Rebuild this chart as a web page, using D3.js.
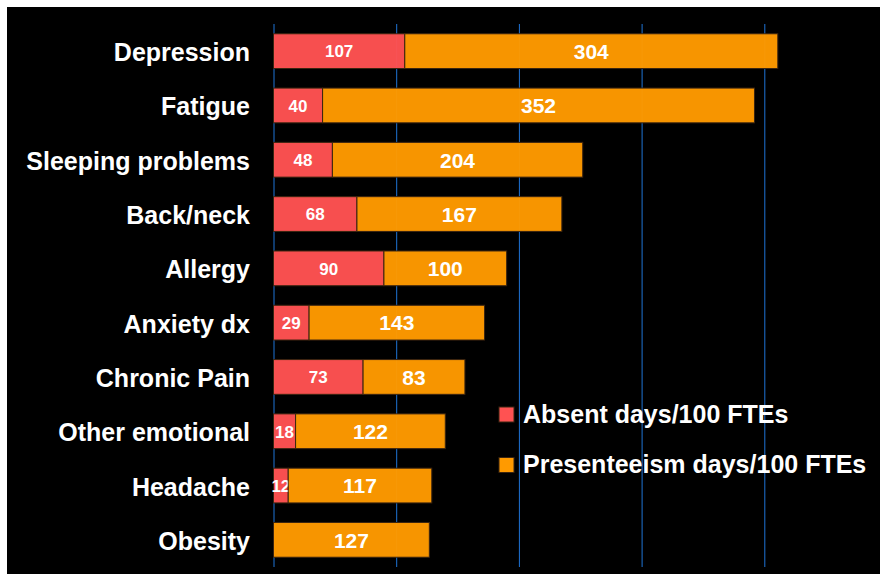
<!DOCTYPE html>
<html lang="en-us">
<head>
<meta charset="utf-8">
<title>Absent and presenteeism days</title>
<script src="https://d3js.org/d3.v7.min.js"></script>
<style>
  body { margin: 0; background: #fff; }
  svg text { font-family: "Liberation Sans", Arial, sans-serif; font-weight: bold; }
</style>
</head>
<body>
<div id="chart"></div>
<script>
const categories = ["Depression", "Fatigue", "Sleeping problems", "Back/neck", "Allergy",
  "Anxiety dx", "Chronic Pain", "Other emotional", "Headache", "Obesity"];
const absentDays = [107, 40, 48, 68, 90, 29, 73, 18, 12, 0];
const presenteeismDays = [304, 352, 204, 167, 100, 143, 83, 122, 117, 127];
const seriesNames = ["Absent days/100 FTEs", "Presenteeism days/100 FTEs"];
const gridTicks = [0, 100, 200, 300, 400];

const width = 880, height = 574;
const colors = ["#ff5252", "#ff9a00"];

const svg = d3.select("#chart").append("svg")
  .attr("width", width)
  .attr("height", height);

svg.append("rect")
  .attr("x", 7).attr("y", 7)
  .attr("width", width - 7).attr("height", height - 7)
  .attr("fill", "#000");

const x = d3.scaleLinear().domain([0, 500]).range([273.5, 887]);
const y = d3.scaleBand().domain(categories).range([24, 567])
  .paddingInner(0.36).paddingOuter(0.18);

// vertical grid lines
const grid = svg.append("g")
  .attr("transform", `translate(0, 567)`)
  .call(d3.axisBottom(x).tickValues(gridTicks).tickSize(-543).tickFormat(""));
grid.select(".domain").remove();
grid.selectAll("line").attr("stroke", "#1f74d6").attr("stroke-width", 1);

// stacked bars
const rows = categories.map((c, i) => ({ cat: c, a: absentDays[i], p: presenteeismDays[i] }));
const stack = d3.stack().keys(["a", "p"])(rows);

stack.forEach((layer, k) => {
  svg.append("g").selectAll("rect")
    .data(layer.filter(d => d[1] > d[0]))
    .join("rect")
    .attr("x", d => x(d[0]))
    .attr("y", d => y(d.data.cat))
    .attr("width", d => x(d[1]) - x(d[0]))
    .attr("height", y.bandwidth())
    .attr("fill", colors[k])
    .attr("fill-opacity", 0.97)
    .attr("stroke", "#3a2410")
    .attr("stroke-width", 1);

  svg.append("g").selectAll("text")
    .data(layer.filter(d => d[1] > d[0]))
    .join("text")
    .attr("x", d => (x(d[0]) + x(d[1])) / 2)
    .attr("y", d => y(d.data.cat) + y.bandwidth() / 2)
    .attr("dy", "0.37em")
    .attr("text-anchor", "middle")
    .attr("fill", "#fff")
    .attr("font-size", k === 0 ? 17 : 21)
    .text(d => d[1] - d[0]);
});

// category labels
const yAxis = svg.append("g")
  .attr("transform", `translate(${x(0)}, 0)`)
  .call(d3.axisLeft(y).tickSize(0).tickPadding(23.5));
yAxis.select(".domain").remove();
yAxis.selectAll("text")
  .attr("fill", "#fff")
  .attr("dy", "0.4em")
  .attr("font-size", 25)
  .attr("font-family", "Liberation Sans, Arial, sans-serif")
  .attr("font-weight", "bold");

// legend
const legend = svg.append("g");
seriesNames.forEach((name, i) => {
  const ly = 407 + i * 50.5;
  legend.append("rect")
    .attr("x", 499).attr("y", ly)
    .attr("width", 15).attr("height", 15)
    .attr("fill", colors[i])
    .attr("stroke", "#3a2410");
  legend.append("text")
    .attr("x", 523).attr("y", ly + 15.5)
    .attr("fill", "#fff")
    .attr("font-size", 25)
    .text(name);
});
</script>
</body>
</html>
